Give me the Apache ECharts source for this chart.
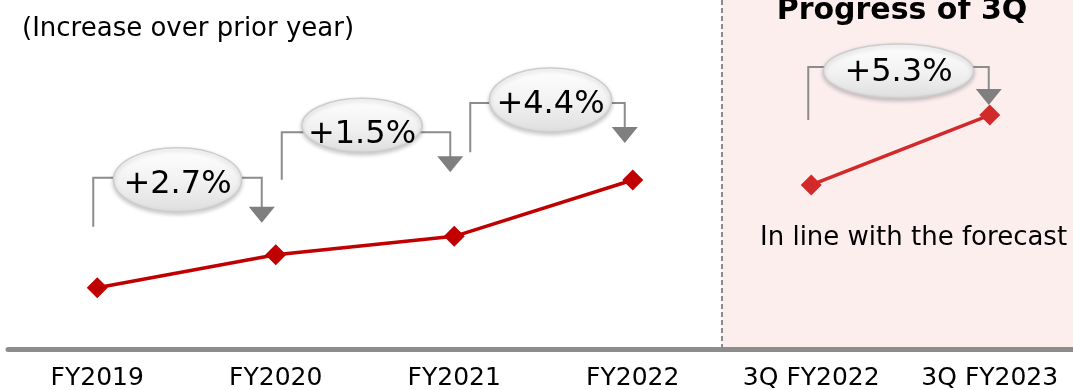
<!DOCTYPE html>
<html>
<head>
<meta charset="utf-8">
<script src="https://cdn.jsdelivr.net/npm/echarts@6/dist/echarts.min.js"></script>
<style>
  html, body { margin: 0; padding: 0; background: #ffffff; }
  #chart { width: 1073px; height: 390px; }
</style>
</head>
<body>
<div id="chart"></div>
<script>
// Period labels along the bottom axis
const categories = ['FY2019', 'FY2020', 'FY2021', 'FY2022', '3Q FY2022', '3Q FY2023'];
// Index level per fiscal year (FY2019 = 100)
const annualIndex = [100, 102.7, 104.2, 108.8];
// Index level for the cumulative third quarter
const quarterIndex = [108.4, 114.1];
// Year-on-year growth shown in the callouts
const growthLabels = ['+2.7%', '+1.5%', '+4.4%', '+5.3%'];
// Which points each callout joins (indexes into categories)
const growthPairs = [[0, 1], [1, 2], [2, 3], [4, 5]];

// Callout geometry, as pixel offsets from the joined points
const calloutLayout = [
  { leftDx: -4, rightDx: -14, barDy: -77, bottomDy: -61, tipDy: -32, cxDx: 0, cyDy: 2, rx: 64, ry: 32, textDy: 6.5 },
  { leftDx: 6, rightDx: -4, barDy: -104, bottomDy: -75, tipDy: -64, cxDx: -4, cyDy: -7, rx: 60, ry: 27, textDy: 2.5 },
  { leftDx: 16, rightDx: -8, barDy: -77, bottomDy: -84, tipDy: -37, cxDx: 3, cyDy: -3, rx: 61, ry: 32, textDy: 1.5 },
  { leftDx: -3, rightDx: -1, barDy: -48, bottomDy: -65, tipDy: -10, cxDx: 0, cyDy: 4, rx: 75, ry: 27, textDy: 6 }
];

const FONT = '"DejaVu Sans", Verdana, sans-serif';
const chart = echarts.init(document.getElementById('chart'), null, { renderer: 'canvas' });

const blanks = n => Array(n).fill('-');
const annualData = annualIndex.concat(blanks(quarterIndex.length));
const quarterData = blanks(annualIndex.length).concat(quarterIndex);
const allValues = annualIndex.concat(quarterIndex);

chart.setOption({
  animation: false,
  // The plot runs slightly past the right edge so the last band is cut by the frame
  grid: { left: 8, top: 0, width: 1071, height: 349, outerBoundsMode: 'none', containLabel: false },
  xAxis: [
    {
      type: 'category',
      data: categories,
      boundaryGap: true,
      z: 10,
      axisLine: { lineStyle: { color: '#8c8c8c', width: 5 } },
      axisTick: { show: false },
      splitLine: { show: false },
      axisLabel: { interval: 0, fontFamily: FONT, fontSize: 25, color: '#000000', margin: 17 }
    },
    // Continuous twin of the category axis, used to place the shaded panel on band edges
    { type: 'value', min: -0.5, max: 5.5, show: false }
  ],
  yAxis: { type: 'value', min: 95, max: 123.5, show: false },
  series: [
    {
      name: 'panel',
      type: 'line',
      xAxisIndex: 1,
      data: [[3.5, 95]],
      showSymbol: false,
      silent: true,
      z: 1,
      lineStyle: { opacity: 0 },
      markArea: {
        silent: true,
        itemStyle: { color: '#fdeeee' },
        data: [[{ xAxis: 3.5 }, { xAxis: 5.5 }]]
      },
      markLine: {
        silent: true,
        symbol: 'none',
        label: { show: false },
        lineStyle: { color: '#8a8a8a', width: 2, type: [5, 3] },
        data: [{ xAxis: 3.5 }]
      }
    },
    {
      name: 'Annual',
      type: 'line',
      data: annualData,
      z: 5,
      symbol: 'diamond',
      symbolSize: 21,
      lineStyle: { color: '#c00000', width: 3.5 },
      itemStyle: { color: '#c00000' }
    },
    {
      name: '3Q cumulative',
      type: 'line',
      data: quarterData,
      z: 5,
      symbol: 'diamond',
      symbolSize: 21,
      lineStyle: { color: '#d22a2a', width: 3.5 },
      itemStyle: { color: '#d22a2a' }
    }
  ]
});

function pointPx(i) {
  const seriesIndex = i < annualIndex.length ? 1 : 2;
  return chart.convertToPixel({ seriesIndex: seriesIndex }, [i, allValues[i]]);
}

const graphics = [
  {
    type: 'text', silent: true, z: 20,
    style: { text: '(Increase over prior year)', x: 22, y: 29, font: '26px ' + FONT, fill: '#000000', align: 'left', verticalAlign: 'middle' }
  },
  {
    type: 'text', silent: true, z: 20,
    style: { text: 'Progress of 3Q', x: 902, y: 11, font: 'bold 30px ' + FONT, fill: '#000000', align: 'center', verticalAlign: 'middle' }
  },
  {
    type: 'text', silent: true, z: 20,
    style: { text: 'In line with the forecast', x: 760, y: 238, font: '26px ' + FONT, fill: '#000000', align: 'left', verticalAlign: 'middle' }
  }
];

growthPairs.forEach(function (pair, k) {
  const L = calloutLayout[k];
  const p0 = pointPx(pair[0]);
  const p1 = pointPx(pair[1]);
  const lx = p0[0] + L.leftDx;
  const rx = p1[0] + L.rightDx;
  const barY = p1[1] + L.barDy;
  const bottomY = p0[1] + L.bottomDy;
  const tipY = p1[1] + L.tipDy;
  const cx = (lx + rx) / 2 + L.cxDx;
  const cy = barY + L.cyDy;

  graphics.push({
    type: 'polyline', silent: true, z: 20,
    shape: { points: [[lx, bottomY], [lx, barY], [rx, barY], [rx, tipY - 15]] },
    style: { stroke: '#8c8c8c', lineWidth: 2, fill: null }
  });
  graphics.push({
    type: 'polygon', silent: true, z: 20,
    shape: { points: [[rx - 13, tipY - 16], [rx + 13, tipY - 16], [rx, tipY]] },
    style: { fill: '#7f7f7f' }
  });
  graphics.push({
    type: 'ellipse', silent: true, z: 21,
    shape: { cx: cx, cy: cy, rx: L.rx, ry: L.ry },
    style: {
      fill: {
        type: 'linear', x: 0, y: 0, x2: 0, y2: 1,
        colorStops: [{ offset: 0, color: '#ffffff' }, { offset: 0.55, color: '#f1f1f1' }, { offset: 1, color: '#dedede' }]
      },
      stroke: '#cdcdcd',
      lineWidth: 1.5,
      shadowBlur: 4,
      shadowOffsetY: 2,
      shadowColor: 'rgba(0,0,0,0.22)'
    }
  });
  graphics.push({
    type: 'text', silent: true, z: 22,
    style: { text: growthLabels[k], x: cx, y: barY + L.textDy, font: '32px ' + FONT, fill: '#000000', align: 'center', verticalAlign: 'middle' }
  });
});

chart.setOption({ graphic: graphics });
</script>
</body>
</html>
